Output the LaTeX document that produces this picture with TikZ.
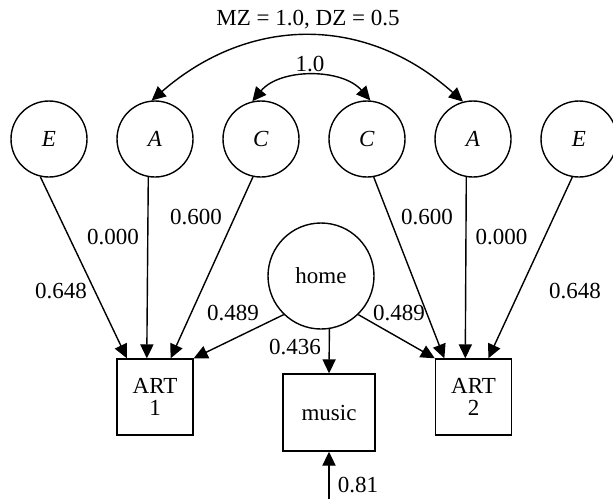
\documentclass[tikz,border=0pt]{standalone}
\usepackage{fontspec}
\setmainfont{Liberation Serif}
\usetikzlibrary{arrows.meta}

\begin{document}
\begin{tikzpicture}[x=0.5pt,y=-0.5pt,
  font=\fontsize{11.5}{11}\selectfont,
  line width=0.7pt,
  >={Triangle[length=7pt,width=6.6pt]},
  latent/.style={draw,circle,minimum size=38pt,inner sep=0pt},
  manifest/.style={draw,rectangle,minimum width=38pt,minimum height=38pt,inner sep=0pt,align=center},
  coef/.style={inner sep=0pt}]
\useasboundingbox (0,0) rectangle (613,499);

\node[latent] (E1) at (49,139) {\textit{E}};
\node[latent] (A1) at (155,139) {\textit{A}};
\node[latent] (C1) at (261,139) {\textit{C}};
\node[latent] (C2) at (367,139) {\textit{C}};
\node[latent] (A2) at (473,139) {\textit{A}};
\node[latent] (E2) at (579,139) {\textit{E}};

\node[latent,minimum size=53pt] (home) at (321,276) {home};

\node[manifest] (ART1) at (155,397) {ART\\1};
\node[manifest] (ART2) at (473.5,397) {ART\\2};
\node[manifest,minimum width=46pt,minimum height=38.5pt] (music) at (329,412.5) {music};
\coordinate (u) at (329,499);

% correlations
\draw[<->] (A1.95) .. controls (250,15) and (366,15) .. (A2.105);
\draw[<->] (C1.103) .. controls (280,68) and (342,68) .. (C2.85);
\node[coef] (rA) at (308,20) {MZ = 1.0, DZ = 0.5};
\node[coef] (rC) at (310,64) {1.0};

% paths to ART 1
\draw[->] (E1.257) -- (ART1.126);
\draw[->] (A1.260) -- (ART1.102);
\draw[->] (C1.258) -- (ART1.68.5);
\draw[->] (home.226) -- (ART1.north east);

% paths to ART 2
\draw[->] (C2.280) -- (ART2.127);
\draw[->] (A2.260) -- (ART2.102.6);
\draw[->] (E2.260) -- (ART2.69);
\draw[->] (home.314) -- (ART2.north west);

\draw[->] (home.279) -- (music.north);
\draw[->] (u) -- (music.south);

\node[coef] (e1) at (61,291) {0.648};
\node[coef] (a1) at (113,237) {0.000};
\node[coef] (c1) at (196,217) {0.600};
\node[coef] (c2) at (427,217) {0.600};
\node[coef] (a2) at (501.5,237) {0.000};
\node[coef] (e2) at (575,291) {0.648};
\node[coef] (h1) at (233,313) {0.489};
\node[coef] (h2) at (399,313) {0.489};
\node[coef] (hm) at (295,347) {0.436};
\node[coef] (um) at (358,485) {0.81};
\end{tikzpicture}
\end{document}
